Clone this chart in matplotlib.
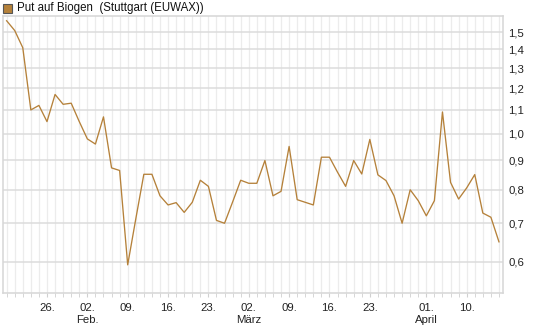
import matplotlib.pyplot as plt
from matplotlib.ticker import FixedLocator, NullFormatter, NullLocator

# closing prices, one per trading day (19.01. - 16.04.)
prices = [1.57, 1.51, 1.41, 1.10, 1.12, 1.05, 1.17, 1.125, 1.13, 1.05,
          0.98, 0.96, 1.07, 0.873, 0.864, 0.593, 0.712, 0.851, 0.851, 0.781,
          0.753, 0.760, 0.731, 0.761, 0.831, 0.811, 0.708, 0.700, 0.762, 0.831,
          0.821, 0.821, 0.899, 0.781, 0.795, 0.951, 0.769, 0.761, 0.753, 0.911,
          0.911, 0.858, 0.811, 0.899, 0.852, 0.978, 0.849, 0.830, 0.781, 0.700,
          0.800, 0.766, 0.721, 0.766, 1.091, 0.824, 0.771, 0.806, 0.850, 0.729,
          0.717, 0.650]

day_ticks = [5, 10, 15, 20, 25, 30, 35, 40, 45, 52, 57]
day_labels = ['26.', '02.\nFeb.', '09.', '16.', '23.', '02.\nMärz', '09.', '16.',
              '23.', '01.\nApril', '10.']
y_ticks = [0.6, 0.7, 0.8, 0.9, 1.0, 1.1, 1.2, 1.3, 1.4, 1.5]
y_labels = ['0,6', '0,7', '0,8', '0,9', '1,0', '1,1', '1,2', '1,3', '1,4', '1,5']

line_color = '#b5813a'
plt.rcParams['font.family'] = ['Liberation Sans', 'DejaVu Sans']

fig = plt.figure(figsize=(5.45, 3.27), dpi=100)
ax = fig.add_axes([3 / 545, 34 / 327, 500 / 545, 277 / 327])

x = list(range(len(prices)))
ax.plot(x, prices, color=line_color, lw=0.95, zorder=3)

ax.set_yscale('log')
ax.set_ylim(0.53, 1.60)
ax.set_xlim(-0.45, len(prices) - 0.5)

# one vertical grid line per trading day
for d in x:
    ax.axvline(d, color='#ececec', lw=0.9, zorder=1)
for v in y_ticks:
    ax.axhline(v, color='#dcdcdc', lw=1.1, zorder=2)

ax.yaxis.set_major_locator(FixedLocator(y_ticks))
ax.yaxis.set_minor_locator(NullLocator())
ax.yaxis.set_minor_formatter(NullFormatter())
ax.set_yticklabels(y_labels)
ax.yaxis.tick_right()
ax.tick_params(axis='y', length=0, pad=4, labelsize=8.2, labelcolor='#222222')

ax.set_xticks(x, minor=True)
ax.set_xticks(day_ticks)
ax.set_xticklabels(day_labels, linespacing=1.25)
ax.tick_params(axis='x', which='both', length=3, color='#d0d0d0', pad=4,
               labelsize=8.2, labelcolor='#222222')

for s in ax.spines.values():
    s.set_color('#d6d6d6')
    s.set_linewidth(1.1)

# legend-like header
fig.patches.append(plt.Rectangle((3 / 545, 1 - 13 / 327), 9 / 545, 9 / 327,
                                 transform=fig.transFigure, facecolor=line_color,
                                 edgecolor='#555555', lw=0.8))
fig.text(17 / 545, 1 - 8 / 327, 'Put auf Biogen  (Stuttgart (EUWAX))',
         fontsize=8.3, va='center', ha='left', color='#111111')

fig.savefig('out.png', dpi=100)
